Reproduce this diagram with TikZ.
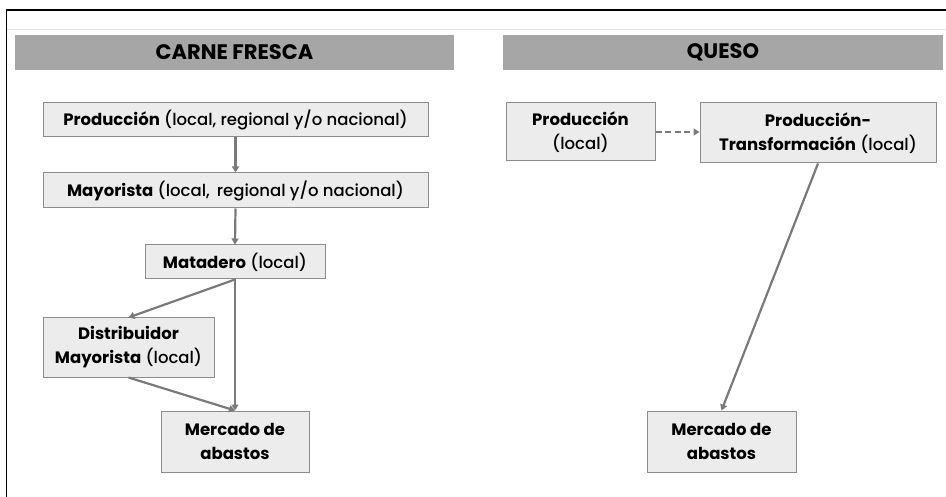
\documentclass[tikz,border=0pt]{standalone}
\usepackage{fontspec}
\setmainfont{Poppins}[UprightFont=*-Medium, BoldFont=*-Bold]
\usetikzlibrary{arrows.meta}
\definecolor{hdr}{HTML}{A6A6A6}
\definecolor{boxfill}{HTML}{ECECEC}
\definecolor{boxline}{HTML}{8C8C8C}
\definecolor{arr}{HTML}{7A7A7A}
\tikzset{
  header/.style={rectangle, fill=hdr, draw=none, inner sep=0pt, font=\fontsize{21}{24}\selectfont\bfseries},
  chainbox/.style={rectangle, fill=boxfill, draw=boxline, line width=1pt, inner sep=0pt, align=center, font=\fontsize{16.5}{24}\selectfont},
  flow/.style={draw=arr, line width=2.2pt, -{Triangle[length=6pt,width=7pt]}},
  dflow/.style={flow, dash pattern=on 6pt off 3.5pt},
}
\begin{document}
\begin{tikzpicture}[x=1pt,y=-1pt]
\useasboundingbox (0,0) rectangle (946,497);
\fill[white] (0,0) rectangle (946,497);
\draw[black, line width=1.3pt] (6.5,497) -- (6.5,10) -- (946,10);
\draw[black!10, line width=0.8pt] (7,29) -- (946,29);
\node[header, minimum width=439pt, minimum height=35pt] (hcf) at (234.5,52.5) {CARNE FRESCA};
\node[header, minimum width=440pt, minimum height=35pt] (hq) at (723,52.5) {QUESO};
\node[chainbox, minimum width=385pt, minimum height=34pt] (prod) at (235.5,120) {\textbf{Producción} (local, regional y/o nacional)};
\node[chainbox, minimum width=385pt, minimum height=35pt] (may) at (235.5,190.5) {\textbf{Mayorista} (local,\, regional y/o nacional)};
\node[chainbox, minimum width=180pt, minimum height=34pt] (mat) at (235,262) {\textbf{Matadero} (local)};
\node[chainbox, minimum width=171pt, minimum height=59pt] (dist) at (128.5,347.5) {\textbf{Distribuidor}\\\textbf{Mayorista} (local)};
\node[chainbox, minimum width=148pt, minimum height=61pt] (merc1) at (235,441.5) {\textbf{Mercado de}\\\textbf{abastos}};
\node[chainbox, minimum width=149pt, minimum height=58pt] (qprod) at (580.5,132) {\textbf{Producción}\\(local)};
\node[chainbox, minimum width=236pt, minimum height=60pt] (qpt) at (818,133) {\textbf{Producción-}\\\textbf{Transformación} (local)};
\node[chainbox, minimum width=149pt, minimum height=61pt] (merc2) at (721.5,441.5) {\textbf{Mercado de}\\\textbf{abastos}};
\draw[flow] (prod.south) -- (may.north);
\draw[flow] (may.south) -- (mat.north);
\draw[flow] (mat.south) -- (dist.north);
\draw[flow] (mat.south) -- (merc1.north);
\draw[flow] (dist.south) -- (merc1.north);
\draw[dflow] (qprod.east) -- (qpt.west |- qprod.east);
\draw[flow] (qpt.south) -- (merc2.north);
\end{tikzpicture}
\end{document}
